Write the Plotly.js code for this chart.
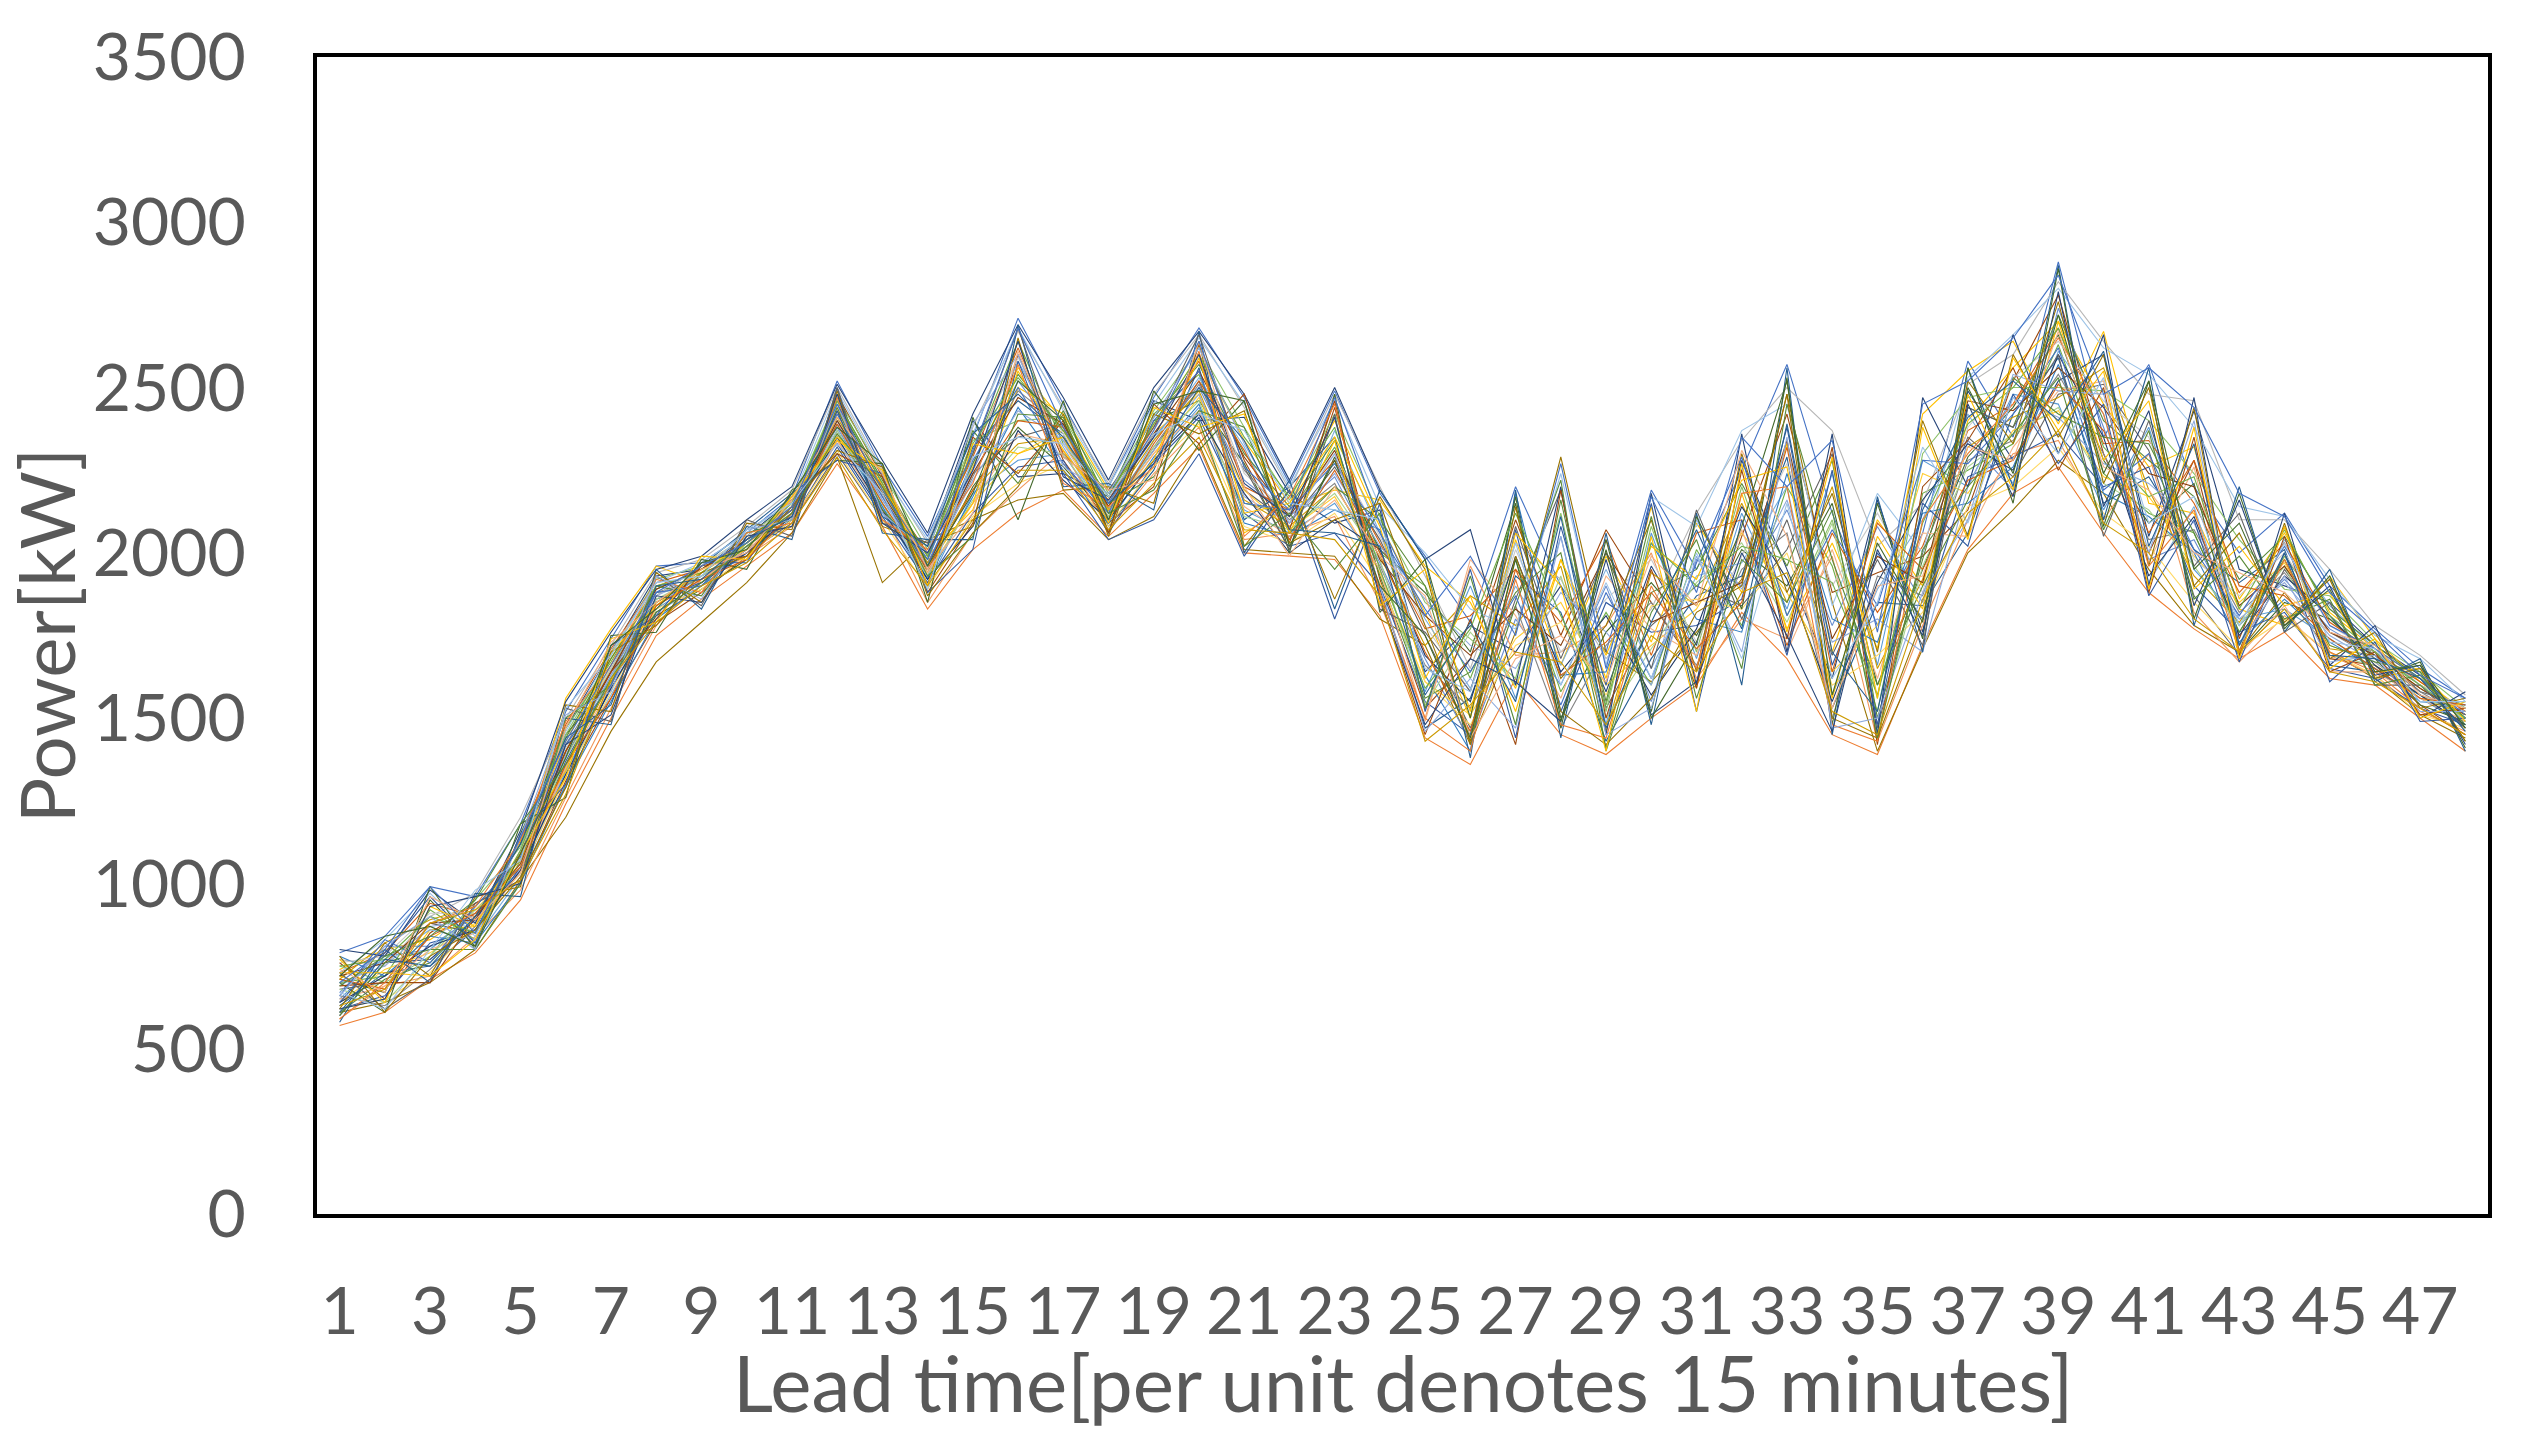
<!DOCTYPE html>
<html>
<head>
<meta charset="utf-8">
<script src="https://cdn.plot.ly/plotly-3.0.1.min.js"></script>
<style>html,body{margin:0;padding:0;background:#fff}</style>
</head>
<body>
<div id="chart" style="width:2526px;height:1446px"></div>
<script>
const lead = [1,2,3,4,5,6,7,8,9,10,11,12,13,14,15,16,17,18,19,20,21,22,23,24,25,26,27,28,29,30,31,32,33,34,35,36,37,38,39,40,41,42,43,44,45,46,47,48]
const xTicks = [1,3,5,7,9,11,13,15,17,19,21,23,25,27,29,31,33,35,37,39,41,43,45,47]
const yTicks = [0,500,1000,1500,2000,2500,3000,3500]

const s01 = [790,840,990,960,1180,1520,1740,1960,1970,2060,2170,2520,2260,2050,2350,2710,2450,2200,2470,2680,2470,2210,2490,2180,1990,1790,2200,1900,1700,2190,1950,2250,2570,2120,1780,2060,2580,2350,2880,2350,2570,2200,2000,2120,1900,1770,1650,1560]
const s02 = [570,610,710,790,950,1240,1500,1750,1860,1960,2060,2270,2080,1830,2010,2120,2190,2050,2180,2320,2000,1990,1980,1810,1440,1360,1620,1450,1390,1500,1600,1820,1680,1450,1390,1720,2010,2180,2260,2060,1880,1770,1680,1760,1620,1600,1500,1400]
const s03 = [610,640,700,800,1010,1200,1460,1670,1790,1910,2060,2290,1910,2040,2100,2160,2180,2040,2110,2330,2010,2000,1990,1800,1720,1420,1760,2290,1700,1610,1760,1920,2480,1850,1400,1710,2000,2130,2280,2180,1950,1780,1700,1880,1700,1620,1510,1440]
const s04 = [720,680,860,870,1100,1430,1680,1900,1940,2040,2150,2440,2200,1960,2260,2560,2400,2150,2390,2600,2340,2150,2400,2090,1820,1500,2040,1660,1990,1730,2090,1880,2330,1700,2100,1900,2400,2560,2700,2450,2260,2320,1860,2060,1820,1710,1620,1520]
const s05 = [650,780,800,910,1030,1340,1590,1830,1920,2010,2110,2360,2140,1900,2180,2280,2300,2100,2280,2440,2130,2060,2150,1950,1580,1900,1560,2050,1480,2060,1680,2120,1830,2240,1660,2280,2200,2480,2450,2130,2380,1950,1800,1830,1740,1650,1560,1480]
const s06 = [700,720,920,830,1070,1400,1650,1880,1900,2030,2130,2410,2180,1980,2300,2640,2330,2140,2420,2540,2150,2120,2320,2000,1900,1620,1980,1580,1820,1600,2010,1780,2200,1960,1520,2180,2250,2330,2630,2240,2120,2060,1760,1990,1800,1690,1600,1530]
const s07 = [600,760,770,890,1120,1470,1700,1930,1950,2050,2160,2330,2120,2020,2400,2230,2240,2170,2460,2400,2410,2180,2090,2130,1640,1780,1700,1900,1580,1960,1720,2280,1950,1620,2160,1760,2490,2280,2520,2600,2050,2430,1950,1900,1850,1720,1630,1500]
const s08 = [760,650,850,940,1010,1310,1560,1790,1880,1990,2100,2480,2230,1880,2090,2600,2280,2090,2200,2630,2280,2030,2440,1920,1530,1680,2100,1750,2070,1850,1650,2050,2420,1880,1940,1990,2130,2520,2780,2300,2000,2280,1740,2080,1680,1660,1540,1450]
const s09 = [680,700,880,850,1140,1380,1640,1850,1930,2000,2090,2300,2100,1960,2240,2350,2390,2130,2310,2520,2190,2090,2260,2040,1750,1470,1860,2190,1530,1780,1900,1840,2010,2300,1470,2000,2350,2230,2480,2510,2310,1870,1690,1950,1760,1700,1580,1540]
const s10 = [740,800,830,920,1060,1560,1770,1960,1910,2030,2140,2420,2190,1990,2130,2500,2420,2190,2360,2480,2060,2140,2190,2160,1960,1850,1590,1980,1620,2140,1590,2180,1770,2030,1710,2420,2550,2640,2390,2670,2150,2120,1830,1780,1930,1740,1610,1510]
const s11 = [630,730,750,860,1090,1290,1600,1870,1960,2070,2180,2380,2150,1920,2320,2460,2360,2080,2250,2560,2100,2200,2350,1890,1470,1560,1930,1820,1430,1680,1870,1930,2290,1530,1850,1840,2060,2420,2590,2150,2230,2010,1910,2010,1660,1640,1570,1470]
const s12 = [710,670,950,810,1150,1450,1610,1810,1890,1980,2120,2450,2210,1940,2200,2380,2260,2110,2400,2460,2270,2010,2290,2010,1880,1700,2150,1500,1760,1910,1750,2010,1900,2150,1600,1950,2290,2440,2660,2280,2090,2210,1700,1850,1800,1680,1540,1490]
const s13 = [670,810,810,900,1040,1350,1630,1840,1930,2020,2130,2400,2160,1970,2250,2520,2340,2150,2350,2500,2220,2110,2230,1970,1680,1430,1800,1600,1900,1550,1980,1900,2130,1780,2080,1850,2340,2190,2740,2380,1980,2040,1780,1920,1770,1690,1590,1500]
const s14 = [590,690,720,840,980,1260,1530,1780,1920,1990,2080,2340,2130,1850,2060,2190,2310,2070,2240,2380,2040,2060,2110,1850,1500,1960,1690,1700,1780,2000,1620,1800,1740,1990,1430,1780,2100,2300,2340,2100,2300,1820,1670,1810,1690,1630,1520,1460]
const s15 = [770,750,900,970,1200,1500,1720,1940,1980,2080,2190,2500,2250,2030,2380,2670,2440,2210,2480,2660,2440,2190,2480,2200,1930,1650,2030,1920,1680,1830,2120,2340,2500,2370,2020,2150,2510,2600,2820,2640,2480,2460,2100,2100,1950,1780,1690,1570]
const s16 = [640,740,790,880,1080,1400,1660,1900,1940,2030,2120,2360,2150,1940,2150,2300,2370,2120,2300,2470,2190,2070,2170,1940,1610,1510,1740,1850,1600,1720,1830,2060,1880,1640,1780,2240,2180,2370,2430,2230,2170,1990,1850,1970,1720,1670,1560,1510]
const s17 = [690,770,860,830,1020,1330,1570,1820,1900,2000,2110,2350,2120,1930,2270,2580,2320,2100,2340,2530,2320,2040,2370,2060,1800,1590,1900,1660,1950,1650,1930,1970,2200,1570,1890,2100,2420,2210,2610,2420,1910,2140,1720,2040,1840,1710,1600,1490]
const s18 = [750,700,780,950,1110,1450,1690,1920,1960,2050,2150,2470,2240,2010,2340,2400,2410,2180,2430,2620,2380,2160,2420,2110,1850,1740,1620,2120,1520,2080,1700,2200,1810,2100,1560,2300,2470,2500,2500,2490,2400,2240,2040,1890,1870,1730,1640,1530]
const s19 = [620,660,820,860,1050,1370,1620,1860,1910,2010,2100,2320,2110,1910,2120,2260,2280,2060,2270,2410,2120,2020,2060,1900,1550,1450,2070,1520,1850,1760,1780,1860,2380,1660,2000,1800,2230,2290,2360,2200,2260,1900,1760,1820,1650,1620,1530,1480]
const s20 = [730,790,940,900,1130,1480,1710,1910,1950,2040,2140,2430,2200,2000,2290,2620,2300,2160,2380,2580,2200,2130,2280,2030,1770,1810,1950,1790,2040,1690,2060,2100,1720,2060,1820,2020,2370,2450,2680,2330,2340,2150,1880,2030,1790,1700,1610,1520]
const s21 = [660,630,740,870,1090,1420,1640,1880,1920,2020,2130,2390,2170,1950,2230,2490,2380,2130,2320,2510,2250,2100,2210,1960,1660,1530,1840,1470,1720,1850,1660,1950,2060,1500,1930,1870,2280,2340,2540,2300,2040,2070,1820,1940,1760,1680,1580,1500]
const s22 = [710,820,890,930,1070,1360,1610,1850,1940,2030,2130,2410,2190,1970,2190,2330,2350,2140,2340,2490,2160,2080,2200,1990,1720,1870,1780,1960,1460,1940,1840,2150,1850,2200,1650,1920,2320,2410,2470,2560,2190,1930,1790,1980,1710,1690,1590,1510]
const s23 = [780,720,840,820,1000,1300,1550,1800,1900,2000,2100,2370,2140,1920,2170,2440,2250,2090,2290,2450,2090,2050,2130,2070,1630,1400,2180,1630,1640,2030,1800,1760,2240,1800,1730,2120,2150,2260,2570,2180,2110,2000,1730,1860,1730,1650,1550,1540]
const s24 = [610,710,760,900,1120,1440,1680,1890,1950,2040,2140,2460,2220,1990,2270,2540,2370,2170,2410,2570,2300,2140,2340,1930,1560,1640,1880,2000,1410,1880,1950,2210,1960,2280,1500,1980,2440,2380,2720,2400,2280,2170,1920,2050,1830,1720,1620,1500]
const s25 = [700,750,870,890,1060,1390,1630,1870,1930,2020,2120,2380,2160,1950,2220,2430,2340,2120,2310,2480,2170,2090,2240,2020,1860,1720,1650,1880,1760,1600,2100,1890,2160,1730,1800,1700,2200,2470,2410,2270,2210,2090,1800,1910,1750,1670,1570,1520]
const s26 = [650,690,800,850,1040,1350,1600,1840,1920,2010,2110,2340,2130,1940,2150,2360,2330,2110,2300,2430,2140,2050,2160,1950,1490,1980,1810,1560,1930,1770,1690,2070,1700,2010,1620,2060,2050,2320,2490,2520,1970,2260,1690,1840,1640,1640,1560,1490]
const s27 = [760,780,910,910,1080,1410,1650,1870,1960,2050,2140,2420,2180,1980,2310,2590,2360,2150,2370,2590,2240,2120,2300,2050,1780,1580,2010,1700,1860,1980,1730,1990,2270,1900,2120,1880,2380,2530,2640,2460,2350,1980,1870,2000,1780,1700,1600,1530]
const s28 = [620,650,730,880,1030,1320,1580,1830,1890,1990,2100,2310,2100,1890,2110,2210,2270,2080,2260,2390,2080,2030,2120,1910,1610,1480,1720,1790,1570,1840,1860,1830,2000,1600,1690,1820,2140,2200,2320,2120,2020,1850,1710,1800,1700,1630,1510,1470]
const s29 = [730,830,970,840,1100,1460,1700,1910,1970,2060,2160,2490,2240,2040,2360,2680,2430,2200,2450,2650,2450,2200,2460,2140,2000,1830,1770,2240,1660,2170,2080,2370,2450,1840,2180,2000,2530,2660,2800,2620,2540,2380,2140,2110,1920,1750,1680,1550]
const s30 = [680,640,780,920,1050,1380,1620,1860,1930,2020,2120,2370,2150,1930,2160,2320,2300,2110,2320,2460,2110,2070,2180,1980,1540,1760,1600,1930,1500,1710,1910,2030,1790,2090,1460,1960,2260,2360,2440,2210,2130,1960,1780,1960,1690,1660,1570,1500]
const s31 = [640,720,810,860,1040,1330,1590,1820,1910,2000,2110,2350,2130,1920,2080,2370,2220,2100,2280,2420,2180,2000,2100,2010,1690,1550,1990,1640,1810,1570,1770,2140,1920,1550,1910,2160,2330,2250,2600,2350,1930,2110,1750,1930,1810,1660,1570,1480]
const s32 = [720,760,880,890,1090,1400,1640,1890,1950,2040,2130,2400,2180,1960,2240,2470,2390,2140,2360,2550,2290,2110,2310,1980,1810,1690,1830,1720,2000,1790,1850,1910,2340,1740,1990,1910,2460,2430,2560,2440,2240,2200,1840,1960,1760,1690,1590,1510]
const s33 = [800,780,980,880,1160,1550,1760,1950,1990,2100,2200,2510,2280,2060,2420,2690,2470,2220,2500,2670,2480,2220,2500,2190,1980,2070,1600,2200,1450,2180,1600,2360,1700,2360,1450,2470,2200,2660,2300,2660,1900,2470,1680,2120,1660,1780,1500,1580]
const s34 = [580,800,700,970,960,1500,1480,1950,1830,2080,2040,2500,2060,2040,2040,2690,2200,2210,2130,2670,2000,2220,1830,2190,1980,1380,2190,1440,2060,1480,2120,1600,2560,1450,2170,1700,2560,2200,2870,2100,2560,1780,2200,1760,1950,1610,1680,1400]
const s35 = [700,610,990,800,1180,1260,1750,1760,1980,1950,2190,2280,2270,1850,2410,2100,2460,2060,2490,2310,2460,2000,2480,1820,1980,1500,2170,1470,2040,1520,2110,1830,2530,1480,2150,1740,2560,2150,2860,2080,2520,1800,2180,1770,1930,1620,1670,1410]
const s36 = [620,820,720,960,990,1540,1520,1940,1850,2090,2070,2490,2080,2030,2080,2650,2190,2200,2150,2640,2020,2190,1860,2170,1950,1420,1990,1620,1780,2100,1640,2300,1880,2180,1700,2400,2050,2600,2350,2600,1960,2440,1700,2090,1680,1760,1530,1560]
const s37 = [690,700,700,900,1060,1400,1640,1800,1960,1990,2160,2300,2230,1900,2350,2240,2400,2060,2450,2330,2480,2070,2460,1870,1450,1800,1420,2190,1500,1950,1590,2250,1740,2320,1420,2200,2340,2560,2250,2500,1880,2350,1690,2050,1640,1700,1510,1530]
const s38 = [640,790,960,820,1150,1300,1720,1810,1970,1970,2180,2280,2240,1880,2010,2580,2240,2040,2100,2300,1990,2190,1800,2150,1520,1950,1440,2080,1600,2150,1520,2100,1690,2250,1480,2150,2020,2480,2270,2450,1870,2100,1670,2000,1610,1730,1490,1500]
const s39 = [730,620,710,940,1010,1530,1490,1930,1840,2100,2050,2500,2090,2030,2300,2680,2290,2190,2380,2660,2260,2010,2420,1830,1760,1580,2080,1680,2000,1650,2130,1800,2100,1690,1980,1720,2440,2380,2600,2050,2400,1960,2120,1760,1850,1600,1600,1470]
const s40 = [600,760,800,800,1000,1500,1600,1900,1870,2060,2100,2440,2130,1980,2370,2210,2430,2150,2230,2430,2380,2060,2200,2100,1900,1440,1840,2220,1400,1820,2040,1650,2450,1980,1600,1900,2160,2530,2420,2350,2330,2060,1760,1980,1720,1670,1640,1430]
const s41 = [770,640,930,870,1130,1340,1700,1840,1950,2010,2170,2350,2210,1960,2150,2550,2310,2130,2280,2590,2120,2150,2350,2080,1620,1870,1520,1980,1690,2020,1920,2220,2260,1560,2050,1830,2480,2190,2700,2280,2460,1890,2020,1840,1880,1640,1650,1490]
const s42 = [660,830,760,930,1080,1420,1600,1880,1900,2040,2130,2420,2170,1960,2280,2500,2270,2120,2400,2550,2150,2130,2270,2060,1830,1640,1870,1540,1880,1620,1970,2290,1810,2070,1840,2280,2270,2420,2620,2190,2300,2010,1810,2020,1780,1710,1620,1510]
const s43 = [710,680,840,910,1050,1360,1560,1840,1920,1980,2120,2390,2150,1950,2190,2400,2380,2100,2330,2520,2310,2040,2250,2000,1700,1460,1950,1630,1730,1880,1710,1850,2320,1640,2090,1950,2220,2280,2510,2370,2060,2280,1900,1870,1740,1650,1560,1540]
const s44 = [750,770,900,850,1100,1470,1670,1900,1940,2030,2150,2460,2210,1990,2330,2530,2370,2170,2390,2600,2350,2170,2380,1950,1590,1770,2120,1810,1540,2030,1900,2020,1980,1910,1570,2090,2390,2500,2680,2320,2170,2230,1830,2070,1810,1700,1600,1500]
const s45 = [590,700,880,930,1130,1490,1660,1920,1880,2060,2090,2470,2100,2010,2210,2570,2210,2140,2260,2610,2050,2170,2450,1880,1500,1400,1920,1480,1440,1900,1650,2180,2200,1480,1430,2100,2300,2450,2650,2420,1960,2130,1700,1980,1700,1640,1530,1450]
const s46 = [780,610,780,860,1020,1290,1700,1780,1940,1990,2140,2310,2260,1870,2060,2200,2420,2050,2420,2360,2430,2030,2100,2150,1780,1430,2140,1520,1420,1560,1820,1900,2480,1500,1440,1800,2520,2330,2760,2210,2500,1900,2060,1790,1920,1620,1650,1430]
const s47 = [660,810,900,800,1140,1510,1580,1930,1860,2070,2100,2450,2120,2000,2390,2600,2260,2180,2410,2620,2330,2090,2300,1900,1460,1620,1470,2050,1450,1530,1990,1700,2350,1470,1500,1880,2100,2540,2490,2480,2000,2400,1720,1930,1670,1690,1520,1520]
const s48 = [620,650,930,960,1000,1420,1510,1870,1850,2050,2080,2480,2090,2000,2250,2640,2230,2160,2350,2600,2210,2110,2410,1860,1480,1680,1610,1490,1980,1510,1610,2000,1750,1460,2010,1750,2450,2170,2790,2140,2430,1840,2160,1780,1900,1630,1660,1420]
const s49 = [730,730,720,830,1090,1320,1740,1790,1990,1980,2170,2340,2250,1900,2330,2300,2350,2090,2440,2380,2420,2060,2340,1840,1950,1520,2060,1900,1400,2050,1520,2270,1760,2290,1560,2380,2040,2590,2370,2550,1890,2380,1680,2080,1650,1740,1500,1550]
const s50 = [690,780,840,950,1180,1360,1620,1820,1910,2020,2120,2360,2200,1930,2050,2420,2410,2120,2190,2400,2020,2120,1950,2120,1530,1930,1480,2160,1550,2110,1560,1980,1850,2130,1440,2010,2200,2360,2530,2070,2370,1860,1990,1800,1860,1600,1630,1480]
const s51 = [740,670,960,890,1030,1470,1730,1850,1950,2000,2160,2410,2240,1950,2120,2610,2290,2190,2220,2640,2200,1990,2200,1990,1870,1440,1680,1750,1610,1990,1840,2310,2050,1530,1900,1930,2320,2280,2670,2260,2190,2000,1940,1880,1760,1720,1570,1530]
const s52 = [610,770,750,900,1120,1440,1540,1900,1920,2040,2110,2430,2110,2020,2360,2480,2350,2150,2270,2500,2340,2070,2060,2020,1570,1790,1550,2110,1470,1790,2070,1770,2390,1700,1520,2130,2410,2520,2400,2610,2020,2330,1720,2000,1690,1680,1620,1460]
const s53 = [670,620,800,980,1070,1530,1690,1910,1930,2070,2150,2330,2180,1890,2290,2350,2330,2170,2360,2420,2370,2150,2130,2100,1650,1580,2030,1600,1910,1620,2000,1680,2150,1620,1850,2320,2090,2470,2300,2530,2090,2170,1780,2030,1730,1710,1550,1550]
const s54 = [720,840,870,810,1090,1380,1720,1830,1970,2010,2180,2380,2270,1960,2180,2520,2400,2100,2450,2490,2460,2020,2280,1900,1750,1440,1980,1490,2010,1500,1730,2080,2520,1570,2030,1790,2500,2240,2720,2240,2520,1950,2090,1780,1890,1640,1660,1470]
const s55 = [630,680,880,920,1010,1270,1620,1790,1900,1970,2090,2290,2070,1900,2100,2250,2250,2070,2210,2350,2070,2060,2040,1870,1430,1540,1700,1670,1480,1750,1640,1880,1940,1520,1450,1860,2120,2230,2370,2090,2000,1800,1700,1830,1640,1610,1530,1450]
const s56 = [700,800,990,850,1140,1430,1660,1880,1960,2030,2140,2450,2190,1980,2310,2680,2380,2150,2370,2640,2260,2130,2470,2090,1810,1990,1750,2270,1650,2170,1880,2350,2200,2340,1760,2450,2520,2650,2840,2480,2560,2440,2180,2110,1880,1760,1630,1560]

const allSeries = [s01,s02,s03,s04,s05,s06,s07,s08,s09,s10,s11,s12,s13,s14,s15,s16,s17,s18,s19,s20,s21,s22,s23,s24,s25,s26,s27,s28,s29,s30,s31,s32,s33,s34,s35,s36,s37,s38,s39,s40,s41,s42,s43,s44,s45,s46,s47,s48,s49,s50,s51,s52,s53,s54,s55,s56]
// office palette, in the order a spreadsheet hands them out
const palette = ['#4472C4','#ED7D31','#A5A5A5','#FFC000','#5B9BD5','#70AD47','#264478','#9E480E','#636363','#997300','#255E91','#43682B','#698ED0','#F1975A','#B7B7B7','#FFCD33','#7CAFDD','#8CC168','#335AA1','#D26012','#848484','#CC9A00','#327DC2','#5A8A39','#8FAADC','#F4B183','#C9C9C9','#FFD966','#9DC3E6','#A9D18E','#203864','#843C0C','#264478','#255E91','#43682B','#997300','#9E480E','#335AA1','#636363','#5A8A39','#FFC000','#4472C4','#D26012','#70AD47','#ED7D31','#997300','#8FAADC','#264478','#FFC000','#5A8A39','#F4B183','#255E91','#9DC3E6','#43682B','#CC9A00','#4472C4']

// s03 has to stay gold, it is the low line that is easy to see
const seriesColor = i => i === 2 ? '#997300' : i === 9 ? '#FFC000' : palette[i]

const traces = allSeries.map((s, i) => ({
    x: lead,
    y: s,
    type: 'scatter',
    mode: 'lines',
    line: {color: seriesColor(i), width: 1.1},
    hoverinfo: 'skip'
}))

const tickFont = {family: 'Lato, "Open Sans", sans-serif', size: 66, color: '#595959'}
const titleFont = {family: 'Lato, "Open Sans", sans-serif', size: 78, color: '#595959'}
const yTitleFont = {family: 'Lato, "Open Sans", sans-serif', size: 76, color: '#595959'}

const layout = {
    width: 2526,
    height: 1446,
    showlegend: false,
    paper_bgcolor: '#fff',
    plot_bgcolor: '#fff',
    font: tickFont,
    margin: {l: 317, r: 38, t: 57, b: 232, pad: 0},
    xaxis: {
        range: [0.5, 48.5],
        tickmode: 'array',
        tickvals: xTicks,
        ticktext: xTicks.map(String),
        tickangle: 0,
        ticks: 'outside',
        ticklen: 37,
        tickcolor: 'rgba(0,0,0,0)',
        tickfont: tickFont,
        showgrid: false,
        zeroline: false,
        showline: true,
        mirror: true,
        linecolor: '#000',
        linewidth: 4
    },
    yaxis: {
        range: [0, 3500],
        tickmode: 'array',
        tickvals: yTicks,
        ticktext: yTicks.map(String),
        ticks: 'outside',
        ticklen: 54,
        tickcolor: 'rgba(0,0,0,0)',
        tickfont: tickFont,
        showgrid: false,
        zeroline: false,
        showline: true,
        mirror: true,
        linecolor: '#000',
        linewidth: 4,
        title: {text: 'Power[kW]', font: yTitleFont, standoff: 0}
    },
    // axis title sits too low with standoff 0, so the x title goes here
    annotations: [{
        text: 'Lead time[per unit denotes 15 minutes]',
        xref: 'paper',
        yref: 'paper',
        x: 0.5,
        y: 0,
        yanchor: 'middle',
        yshift: -168,
        showarrow: false,
        font: titleFont
    }]
}

Plotly.newPlot('chart', traces, layout, {displayModeBar: false, responsive: false})
</script>
</body>
</html>
